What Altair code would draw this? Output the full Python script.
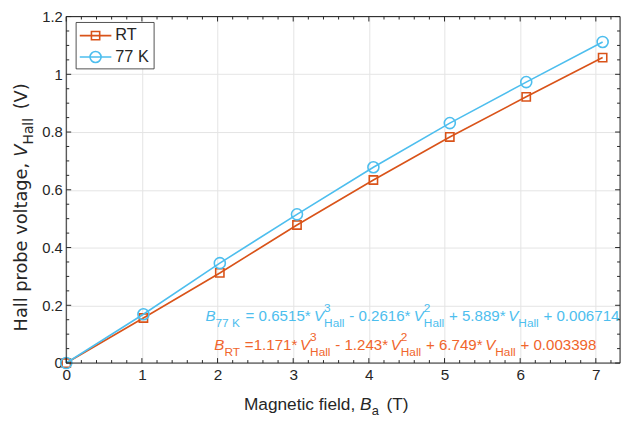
import altair as alt
import pandas as pd
import numpy as np

# ---------------- data ----------------
field_T = [0.0, 1.02, 2.03, 3.05, 4.06, 5.07, 6.08, 7.09]
hall_RT = [0.0, 0.156, 0.312, 0.478, 0.634, 0.783, 0.922, 1.058]
hall_77K = [0.0, 0.169, 0.346, 0.515, 0.678, 0.831, 0.973, 1.112]
series_names = ["RT", "77 K"]
series_colors = ["#D95319", "#4DBEEE"]
x_tick_values = [0, 1, 2, 3, 4, 5, 6, 7]
y_tick_values = [0, 0.2, 0.4, 0.6, 0.8, 1.0, 1.2]
fit_77K = ["0.6515", "0.2616", "5.889", "0.006714"]
fit_RT = ["1.171", "1.243", "6.749", "0.003398"]
x_title = ["Magnetic field, ", "B", "a", " (T)"]
y_title = ["Hall probe voltage, ", "V", "Hall", " (V)"]

# ---------------- layout ----------------
W, H = 561, 351
TOP = 6
XMAX, YMAX = 7.32, 1.2
AX = "#262626"
GRID = "#e4e4e4"
FONT = "Liberation Sans"
FONT2 = "DejaVu Sans"
C_77K_TXT = "#4DBEEE"
C_RT_TXT = "#F0652C"

xs = alt.Scale(domain=[0, XMAX], nice=False, zero=False)
ys = alt.Scale(domain=[0, YMAX], nice=False, zero=False)

X_AXIS = alt.Axis(values=x_tick_values, title=None, grid=True, gridColor=GRID, ticks=False,
                  domain=False, labelFontSize=15.5, labelFont=FONT, labelColor=AX,
                  labelPadding=5, labelFlush=False)
Y_AXIS = alt.Axis(values=y_tick_values, format="~g", title=None, grid=True, gridColor=GRID,
                  ticks=False, domain=False, labelFontSize=15, labelFont=FONT, labelColor=AX,
                  labelPadding=4, labelFlush=False)


def X(field):
    return alt.X(field, scale=xs, axis=X_AXIS)


def Y(field):
    return alt.Y(field, scale=ys, axis=Y_AXIS)


# advance widths (per 1000 em) of Liberation Sans and DejaVu Sans
AW = {' ': 278, '.': 278, ',': 278, '*': 389, '=': 584, '+': 584, '-': 333,
      '(': 333, ')': 333, 'B': 667, 'H': 722, 'K': 667, 'M': 833, 'R': 722,
      'T': 611, 'V': 667, 'a': 556, 'b': 556, 'c': 500, 'd': 556, 'e': 556,
      'f': 278, 'g': 556, 'i': 222, 'l': 222, 'n': 556, 'o': 556, 'p': 556,
      'r': 333, 't': 278, 'v': 500}
DW = {' ': 318, ',': 318, '(': 390, ')': 390, 'H': 752, 'V': 684, 'a': 613,
      'b': 635, 'e': 615, 'g': 635, 'l': 278, 'o': 612, 'p': 635, 'r': 411,
      't': 392, 'v': 592}


def tw(s, size, table=AW):
    return sum(table.get(c, 600) for c in s) * size / 1000.0


def to_data(px, py):
    # px, py are offsets from the page-level plot origin (67, 11)
    py = py - (TOP - 3)
    return px / W * XMAX, YMAX * (1 - py / H)


def run(x0, base, groups, color, fs, ss, sub_d, sup_d, vertical=False, gap=1.0,
        font=FONT, table=AW):
    rows = []
    pos = 0.0

    def put(text, size, shift, italic):
        s = text.strip()
        lead = tw(text[:len(text) - len(text.lstrip())], size, table)
        if vertical:
            px, py = base + shift, x0 - (pos + lead)
            ang = 270
        else:
            px, py = x0 + pos + lead, base + shift
            ang = 0
        bx, vy = to_data(px, py)
        rows.append(dict(B=bx, V=vy, text=s, size=size, color=color,
                         angle=ang, italic=italic, font=font))

    for g in groups:
        kind = g[0]
        if kind in ("n", "i"):
            put(g[1], fs, 0, kind == "i")
            pos += tw(g[1], fs, table)
        elif kind == "sub":
            put(g[1], ss, sub_d, False)
            pos += tw(g[1], ss, table) + gap
        elif kind == "ss":
            put(g[1], ss, sup_d, False)
            put(g[2], ss, sub_d, False)
            pos += max(tw(g[1], ss, table), tw(g[2], ss, table)) + gap
    return rows


def fit_groups(bsub, c, eq):
    return [("i", "B"), ("sub", bsub), ("n", eq + c[0] + "*"), ("i", "V"),
            ("ss", "3", "Hall"), ("n", " - " + c[1] + "*"), ("i", "V"),
            ("ss", "2", "Hall"), ("n", " + " + c[2] + "*"), ("i", "V"),
            ("sub", "Hall"), ("n", " + " + c[3])]


rows = []
rows += run(141, 311, fit_groups("77 K", fit_77K, " = "), C_77K_TXT, 15.3, 12, 6, -9, gap=0.5)
rows += run(150, 341, fit_groups("RT", fit_RT, " ="), C_RT_TXT, 15.3, 12, 6, -9, gap=0.5)
rows += run(180, 402, [("n", x_title[0]), ("i", x_title[1]), ("sub", x_title[2]),
                       ("n", x_title[3])], AX, 17.5, 13, 5, -9, gap=3)
rows += run(322, -40, [("n", y_title[0]), ("i", y_title[1]), ("sub", y_title[2]),
                       ("n", y_title[3])], AX, 18, 14, 6, -9, vertical=True, gap=3,
            font=FONT2, table=DW)
# legend labels
for name, yb in zip(series_names, [27.2, 48.8]):
    bx, vy = to_data(49.7, yb)
    rows.append(dict(B=bx, V=vy, text=name, size=16.5, color=AX, angle=0,
                     italic=False, font=FONT))
txt = pd.DataFrame(rows)


def text_layer(df, italic, font):
    sub = df[(df.italic == italic) & (df.font == font)]
    return alt.Chart(sub).mark_text(
        align="left", baseline="alphabetic", font=font,
        fontStyle="italic" if italic else "normal").encode(
        x=X("B:Q"), y=Y("V:Q"),
        text="text:N",
        size=alt.Size("size:Q", scale=None, legend=None),
        color=alt.Color("color:N", scale=None, legend=None),
        angle=alt.Angle("angle:Q", scale=None),
    )


data = pd.DataFrame({"B": field_T * 2,
                     "V": hall_RT + hall_77K,
                     "series": [series_names[0]] * len(field_T) + [series_names[1]] * len(field_T)})

one = pd.DataFrame({"a": [0]})

frame = alt.Chart(one).mark_rect(fillOpacity=0, stroke=AX, strokeWidth=1).encode(
    x=alt.value(0), x2=alt.value(W), y=alt.value(0), y2=alt.value(H))


def tick_layers(vals, axis_ch, length):
    df = pd.DataFrame({"t": vals})
    out = []
    if axis_ch == "x":
        for y0, y1 in [(H, H - length), (0, length)]:
            out.append(alt.Chart(df).mark_rule(color=AX, strokeWidth=1).encode(
                x=X("t:Q"), y=alt.value(y0), y2=alt.value(y1)))
    else:
        for x0, x1 in [(0, length), (W, W - length)]:
            out.append(alt.Chart(df).mark_rule(color=AX, strokeWidth=1).encode(
                y=Y("t:Q"), x=alt.value(x0), x2=alt.value(x1)))
    return out


x_minor = [round(v, 2) for v in np.arange(0, XMAX, 0.2) if abs(v - round(v)) > 1e-6]
y_minor = [round(v, 3) for v in np.arange(0, YMAX + 1e-9, 0.05)
           if abs(v / 0.2 - round(v / 0.2)) > 1e-6]

ticks = (tick_layers(x_tick_values, "x", 5) + tick_layers(x_minor, "x", 3)
         + tick_layers(y_tick_values, "y", 5) + tick_layers(y_minor, "y", 3))

series_layers = []
for name, col, shp, sz in zip(series_names, series_colors, ["square", "circle"], [70, 125]):
    d = data[data.series == name]
    series_layers.append(alt.Chart(d).mark_line(color=col, strokeWidth=1.6).encode(
        x=X("B:Q"), y=Y("V:Q")))
    series_layers.append(alt.Chart(d).mark_point(
        shape=shp, filled=False, size=sz, color=col, strokeWidth=1.6, opacity=1).encode(
        x=X("B:Q"), y=Y("V:Q")))

# manual legend box
legend = [alt.Chart(one).mark_rect(fill="white", stroke=AX, strokeWidth=0.8).encode(
    x=alt.value(10), x2=alt.value(89), y=alt.value(6), y2=alt.value(53))]
for col, shp, sz, yy in zip(series_colors, ["square", "circle"], [70, 125], [19.3, 41]):
    legend.append(alt.Chart(one).mark_rule(color=col, strokeWidth=1.6).encode(
        x=alt.value(13.7), x2=alt.value(45.7), y=alt.value(yy)))
    legend.append(alt.Chart(one).mark_point(
        shape=shp, filled=False, size=sz, color=col, strokeWidth=1.6, opacity=1).encode(
        x=alt.value(29.7), y=alt.value(yy)))

chart = alt.layer(
    *series_layers, frame, *ticks, *legend,
    text_layer(txt, False, FONT), text_layer(txt, True, FONT),
    text_layer(txt, False, FONT2), text_layer(txt, True, FONT2)
).properties(
    width=W, height=H,
    autosize=alt.AutoSizeParams(type="none"),
    padding={"left": 59, "top": TOP, "right": 3, "bottom": 52},
).configure_view(stroke=None).configure(background="white", font=FONT)

chart.save("out.html", embed_options={"renderer": "svg", "actions": False})
